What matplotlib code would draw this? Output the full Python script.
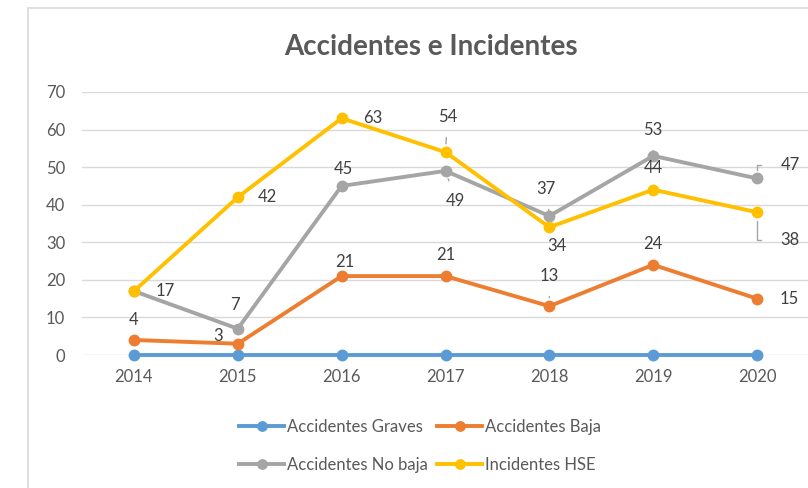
import matplotlib.pyplot as plt
from matplotlib.patches import Rectangle

plt.rcParams['font.family'] = ['Lato', 'DejaVu Sans']

years = ['2014', '2015', '2016', '2017', '2018', '2019', '2020']
graves = [0, 0, 0, 0, 0, 0, 0]
baja = [4, 3, 21, 21, 13, 24, 15]
no_baja = [17, 7, 45, 49, 37, 53, 47]
hse = [17, 42, 63, 54, 34, 44, 38]

series = [('Accidentes Graves', graves, '#5B9BD5'),
          ('Accidentes Baja', baja, '#ED7D31'),
          ('Accidentes No baja', no_baja, '#A5A5A5'),
          ('Incidentes HSE', hse, '#FFC000')]

fig = plt.figure(figsize=(8.08, 4.88), dpi=100)
fig.patches.append(Rectangle((28 / 808, -0.1), 1.2, 1 - 8 / 488 + 0.1,
                             transform=fig.transFigure, fill=False,
                             edgecolor='#D9D9D9', linewidth=1.2))
ax = fig.add_axes([82 / 808, 1 - 355 / 488, 727 / 808, 263 / 488])

x = list(range(len(years)))
lines = {}
for name, vals, col in series:
    lines[name], = ax.plot(x, vals, color=col, lw=2.8, marker='o', ms=7.5,
                           label=name, zorder=3, clip_on=False)

ax.set_xlim(-0.5, 6.5)
ax.set_ylim(0, 70)
ax.set_yticks(range(0, 71, 10))
ax.set_xticks(x)
ax.set_xticklabels(years)
ax.grid(axis='y', color='#D9D9D9', lw=1)
ax.set_axisbelow(True)
for s in ax.spines.values():
    s.set_visible(False)
ax.tick_params(length=0, labelsize=12, colors='#595959', pad=10)
ax.tick_params(axis='y', pad=12)

# label offsets in pixels (dx, dy), leader style
labels = [
    (baja, 0, 0, 20, None), (baja, 1, -20, 8, None), (baja, 2, 3, 14, None),
    (baja, 3, 0, 21, None), (baja, 4, 0, 30, 'l'), (baja, 5, 0, 21, None),
    (baja, 6, 32, 0, None),
    (no_baja, 1, -3, 24, 'l'), (no_baja, 2, 2, 17, None),
    (no_baja, 3, 10, -30, 'l'), (no_baja, 4, -3, 27, 'l'),
    (no_baja, 5, 0, 26, 'l'), (no_baja, 6, 33, 13, 'b'),
    (hse, 0, 31, 0, None), (hse, 1, 30, 0, None), (hse, 2, 31, 0, None),
    (hse, 3, 2, 35, 'l'), (hse, 4, 8, -19, None), (hse, 5, 0, 22, None),
    (hse, 6, 33, -28, 'b'),
]
for vals, i, dx, dy, lead in labels:
    props = None
    if lead == 'l':
        props = dict(arrowstyle='-', color='#A5A5A5', lw=1, shrinkA=7, shrinkB=6)
    elif lead == 'b':
        props = dict(arrowstyle='-', color='#A5A5A5', lw=1, shrinkA=12, shrinkB=6,
                     connectionstyle='angle,angleA=0,angleB=90,rad=0')
    ax.annotate(str(vals[i]), (i, vals[i]), xytext=(dx, dy),
                textcoords='offset pixels', ha='center', va='center',
                fontsize=12, color='#404040', arrowprops=props, zorder=4)

fig.text(431 / 808, 1 - 47 / 488, 'Accidentes e Incidentes', ha='center',
         va='center', fontsize=20, fontweight='bold', color='#595959')

# column-major order so rows read Graves/Baja, No baja/HSE
order = ['Accidentes Graves', 'Accidentes No baja',
         'Accidentes Baja', 'Incidentes HSE']
fig.legend(handles=[lines[n] for n in order], ncol=2,
           loc='center', bbox_to_anchor=(420 / 808, 1 - 446 / 488),
           frameon=False, fontsize=12, labelcolor='#595959',
           handlelength=2.7, handletextpad=0.15, columnspacing=0.6,
           labelspacing=1.35, markerscale=0.9)

fig.savefig('out.png', dpi=100)
